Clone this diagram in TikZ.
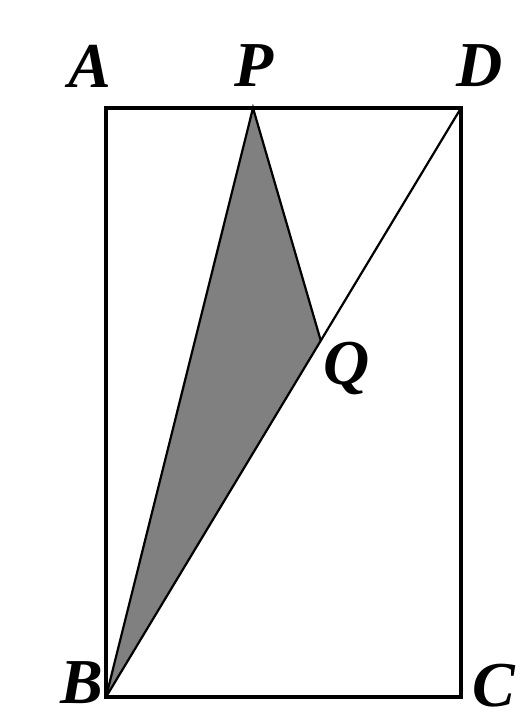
\documentclass[tikz,border=0pt]{standalone}
\usepackage{fontspec}
\setmainfont{Liberation Serif}
\usetikzlibrary{calc}
\begin{document}
\begin{tikzpicture}[x=1pt,y=-1pt,
  lbl/.style={font=\fontsize{64}{66}\selectfont\bfseries\itshape, inner sep=0pt},
  frame/.style={line width=3.5pt, line join=miter},
  thin/.style={line width=2.2pt}]
\useasboundingbox (0,0) rectangle (524,720);
\coordinate (A) at (106,108);
\coordinate (D) at (461,108);
\coordinate (B) at (106,697);
\coordinate (C) at (461,697);
\coordinate (P) at (253,108);
\coordinate (Q) at ($(B)!0.605!(D)$);
\fill[black!50] (B) -- (P) -- (Q) -- cycle;
\draw[thin] (B) -- (P) -- (Q);
\draw[thin] (B) -- (D);
\draw[frame] (A) -- (D) -- (C) -- (B) -- cycle;
\node[lbl] (lA) at (90,66) {A};
\node[lbl] (lP) at (254,66) {P};
\node[lbl] (lD) at (480,66) {D};
\node[lbl] (lQ) at (347,368) {Q};
\node[lbl] (lB) at (82,683) {B};
\node[lbl] (lC) at (494,686) {C};
\end{tikzpicture}
\end{document}
